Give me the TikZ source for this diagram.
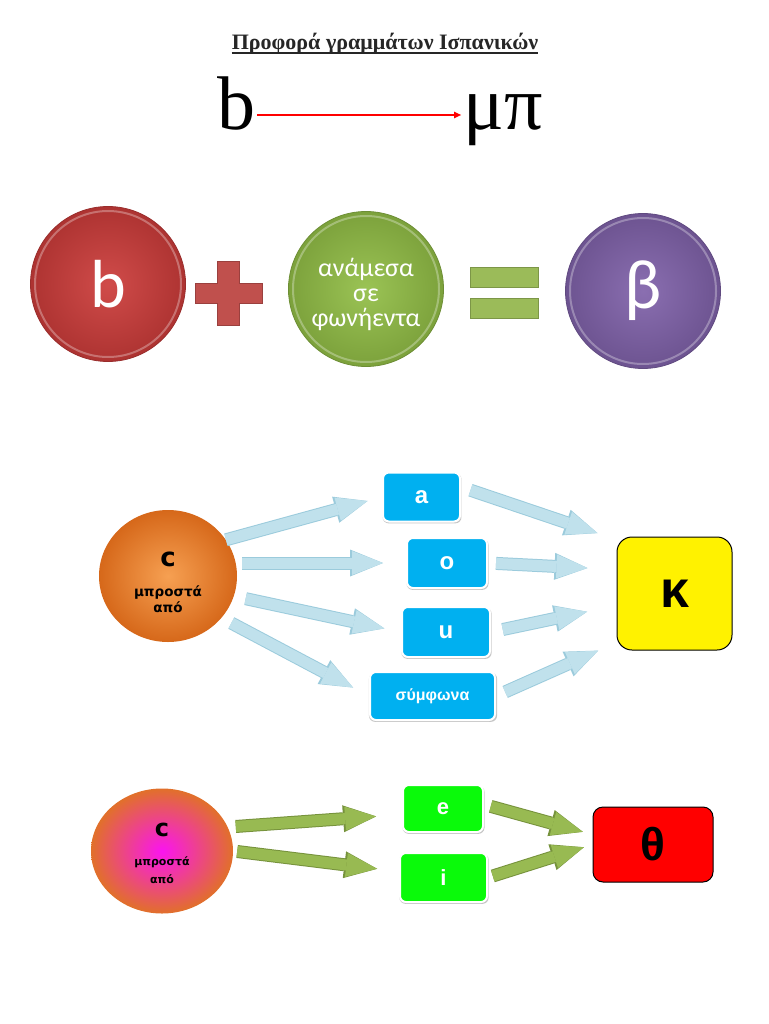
\documentclass[tikz,border=0pt]{standalone}
\usepackage{fontspec}
\setmainfont{Liberation Serif}
\newfontfamily\calibrifont{Carlito}
\newfontfamily\verdanafont{DejaVu Sans}
\newfontfamily\arialfont{Liberation Sans}
\usetikzlibrary{arrows.meta,shapes.geometric,shadows,calc}

\definecolor{discred}{RGB}{204,60,58}
\definecolor{discgreen}{RGB}{146,190,70}
\definecolor{discpurple}{RGB}{128,98,170}
\definecolor{plusred}{RGB}{192,80,77}
\definecolor{eqgreen}{RGB}{155,187,89}
\definecolor{boxblue}{RGB}{0,176,240}
\definecolor{boxgreen}{RGB}{10,250,10}
\definecolor{arrowblue}{RGB}{192,225,236}
\definecolor{arrowblueedge}{RGB}{155,203,220}
\definecolor{arrowgreen}{RGB}{152,186,82}
\definecolor{arrowgreenedge}{RGB}{118,146,60}
\definecolor{orangein}{RGB}{246,160,82}
\definecolor{orangeout}{RGB}{214,104,26}
\definecolor{magentain}{RGB}{250,20,240}
\definecolor{magentaout}{RGB}{225,112,42}

\begin{document}
\begin{tikzpicture}[x=1pt, y=-1pt,
    big/.style={font=\fontsize{76}{76}\selectfont, inner sep=2pt},
    disc/.style={circle, minimum size=155pt, inner sep=0pt, align=center, text=white, line width=0.8pt, draw=#1!75!black, inner color=#1!92!white, outer color=#1!85!black,
        path picture={\draw[white, opacity=0.3, line width=2pt] (path picture bounding box.center) circle (73pt);}},
    blob/.style 2 args={ellipse, inner sep=0pt, align=center, inner color=#1, outer color=#2, font=\verdanafont\bfseries\fontsize{13.5}{16}\selectfont},
    vowel/.style={rectangle, rounded corners=6pt, fill=#1, draw=white, line width=2pt, text=white, font=\arialfont\bfseries\fontsize{24}{24}\selectfont,
        general shadow={fill=black!45, opacity=0.5, shadow xshift=0.5pt, shadow yshift=-1.2pt, shadow scale=1.025}},
    sound/.style={rectangle, rounded corners=#1, draw=black, line width=1pt},
    fatarrow/.style 2 args={draw=#1, line width=11pt, -{Triangle[length=31pt, width=24pt, line width=0pt]},
        preaction={draw=#2, line width=13pt, -{Triangle[length=33pt, width=27pt, line width=0pt]}}},
    redarrow/.style={red, line width=1.6pt, -{Triangle[length=7pt, width=6pt]}}
]
    \useasboundingbox (0,0) rectangle (768,1024);

    % title
    \node[font=\bfseries\fontsize{22}{26}\selectfont, text=black!85, inner sep=0pt, anchor=base] (title) at (385,50) {Προφορά γραμμάτων Ισπανικών};
    \draw[black!85, line width=1.2pt] ([yshift=-3pt]title.base west) -- ([yshift=-3pt]title.base east);

    % b -> μπ
    \node[big, anchor=base] (b) at (236,130) {b};
    \node[big, anchor=base] (mp) at (503,130) {μπ};
    \draw[redarrow] ([yshift=15pt]b.base east) -- ([yshift=15pt]mp.base west);

    % b + between vowels = β
    \node[disc=discred, font=\calibrifont\fontsize{68}{68}\selectfont] (bdisc) at (108,284) {b};
    \filldraw[fill=plusred, draw=plusred!80!black, line width=0.5pt] (195,283) -- (217,283) -- (217,261) -- (239,261) -- (239,283) -- (262,283)
        -- (262,303) -- (239,303) -- (239,325) -- (217,325) -- (217,303) -- (195,303) -- cycle;
    \node[disc=discgreen, font=\calibrifont\fontsize{26}{25}\selectfont] (vowels) at (366,289) {\rule{0pt}{29pt}ανάμεσα\\σε\\φωνήεντα};
    \filldraw[fill=eqgreen, draw=eqgreen!80!black, line width=0.5pt] (470,267) rectangle (538,287) (470,298) rectangle (538,318);
    \node[disc=discpurple, font=\calibrifont\fontsize{70}{70}\selectfont] (beta) at (643,291) {β};

    % c before a, o, u, consonants -> κ
    \node[blob={orangein}{orangeout}, minimum width=138pt, minimum height=132pt] (cfront) at (168,576) {\fontsize{26}{26}\selectfont\rule{0pt}{28pt}c\\[14pt]μπροστά\\από};
    \node[vowel=boxblue, minimum width=77pt, minimum height=49pt] (a) at (421.5,497) {a};
    \node[vowel=boxblue, minimum width=80pt, minimum height=50pt] (o) at (447,563) {o};
    \node[vowel=boxblue, minimum width=88pt, minimum height=50pt] (u) at (446,632) {u};
    \node[vowel=boxblue, minimum width=125pt, minimum height=48pt, font=\arialfont\bfseries\fontsize{16}{16}\selectfont] (cons) at (432.5,696) {σύμφωνα};
    \node[sound=15pt, fill=yellow, minimum width=115pt, minimum height=113pt, font=\arialfont\bfseries\fontsize{52}{52}\selectfont] (kappa) at (674.5,593.5) {κ};

    \draw[fatarrow={arrowblue}{arrowblueedge}, shorten >=15pt] (cfront.32) -- (a.west);
    \draw[fatarrow={arrowblue}{arrowblueedge}, shorten <=5pt, shorten >=23pt] (cfront.east |- o.west) -- (o.west);
    \draw[fatarrow={arrowblue}{arrowblueedge}, shorten <=12pt, shorten >=17pt] (cfront.-17) -- (u.west);
    \draw[fatarrow={arrowblue}{arrowblueedge}, shorten <=11pt, shorten >=18pt] (cfront.-38) -- (cons.west);
    \draw[fatarrow={arrowblue}{arrowblueedge}, shorten <=10pt, shorten >=20pt] ([yshift=10pt]a.east) -- ([yshift=-3pt]kappa.north west);
    \draw[fatarrow={arrowblue}{arrowblueedge}, shorten <=8pt, shorten >=29pt] (o.east) -- ([yshift=24pt]kappa.west);
    \draw[fatarrow={arrowblue}{arrowblueedge}, shorten <=12pt, shorten >=30pt] (u.east) -- ([yshift=-12pt]kappa.west);
    \draw[fatarrow={arrowblue}{arrowblueedge}, shorten <=10pt, shorten >=20pt] (cons.east) -- ([yshift=8pt]kappa.south west);

    % c before e, i -> θ
    \node[blob={magentain}{magentaout}, minimum width=142pt, minimum height=125pt, font=\verdanafont\bfseries\fontsize{11}{18}\selectfont] (cfront2) at (162,851) {\fontsize{24}{24}\selectfont\rule{0pt}{19pt}c\\[11pt]μπροστά\\από};
    \node[vowel=boxgreen, minimum width=80pt, minimum height=47pt, font=\arialfont\bfseries\fontsize{22}{22}\selectfont] (e) at (443,808.5) {e};
    \node[vowel=boxgreen, minimum width=87pt, minimum height=49pt, font=\arialfont\bfseries\fontsize{22}{22}\selectfont] (i) at (443.5,877.5) {i};
    \node[sound=10pt, fill=red, minimum width=120pt, minimum height=75pt, font=\arialfont\bfseries\fontsize{46}{46}\selectfont] (theta) at (653,844.5) {θ};

    \draw[fatarrow={arrowgreen}{arrowgreenedge}, shorten <=8pt, shorten >=26pt] (cfront2.20) -- ([yshift=-6pt]e.west);
    \draw[fatarrow={arrowgreen}{arrowgreenedge}, shorten <=4pt, shorten >=22pt] (cfront2.east) -- ([yshift=6pt]i.west);
    \draw[fatarrow={arrowgreen}{arrowgreenedge}, shorten <=7pt, shorten >=10pt] ([yshift=4pt]e.east) -- ([yshift=10pt]theta.west);
    \draw[fatarrow={arrowgreen}{arrowgreenedge}, shorten <=5pt, shorten >=9pt] (i.east) -- (theta.west);
\end{tikzpicture}
\end{document}
